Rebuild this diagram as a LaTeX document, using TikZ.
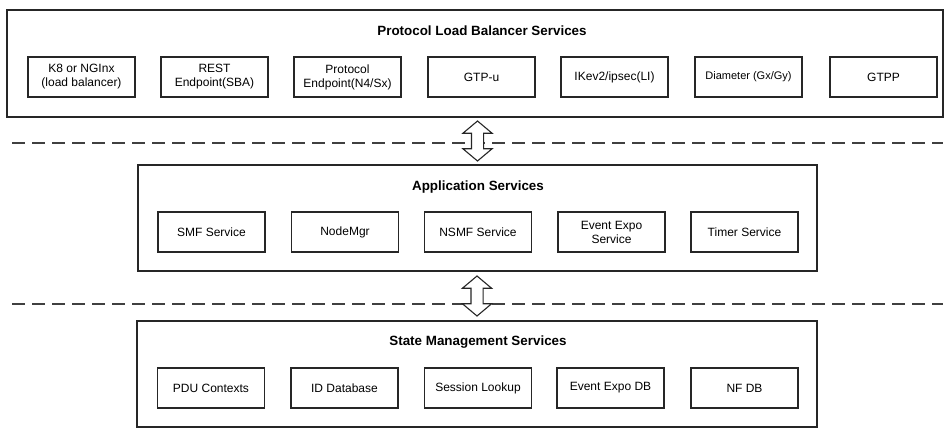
\documentclass[tikz,border=0pt]{standalone}
\usepackage{fontspec}
\setmainfont{Liberation Sans}
\usetikzlibrary{positioning, shapes.arrows, calc}

\begin{document}
\begin{tikzpicture}[
  x=1pt, y=-1pt,
  every node/.style={font=\fontsize{12}{14}\selectfont},
  layer/.style={draw=black!85, line width=1.3pt, inner sep=0pt},
  svc/.style={draw=black!85, line width=1.1pt, minimum width=107pt, minimum height=40pt, align=center, inner sep=1pt},
  layertitle/.style={font=\fontsize{13.4}{16}\selectfont\bfseries},
  divider/.style={draw=black!75, line width=1.2pt, dash pattern=on 13pt off 7pt},
  link/.style={double arrow, draw=black!85, fill=white, line width=1.1pt, rotate=90, minimum height=40pt, minimum width=28pt, inner xsep=0pt, inner ysep=5.5pt, double arrow head extend=8.5pt, double arrow tip angle=100}
]
\useasboundingbox (0,0) rectangle (945,428);
% Layer frames
\node[layer, minimum width=936pt, minimum height=107pt] (plb) at (475,63.5) {};
\node[layer, minimum width=679pt, minimum height=106pt] (app) at (477.5,218) {};
\node[layer, minimum width=680pt, minimum height=106pt] (sms) at (477,374) {};
% Layer titles
\node[layertitle] (plbt) at (482,31) {Protocol Load Balancer Services};
\node[layertitle] (appt) at (478,187) {Application Services};
\node[layertitle] (smst) at (478,342) {State Management Services};
% Protocol load balancer row
\node[svc] (k8) at (81.5,77) {K8 or NGInx\\(load balancer)};
\node[svc] (rest) at (214.5,77) {REST\\Endpoint(SBA)};
\node[svc] (pep) at (347.5,77) {Protocol\\Endpoint(N4/Sx)};
\node[svc] (gtpu) at (481.5,77) {GTP-u};
\node[svc] (ikev) at (614.5,77) {IKev2/ipsec(LI)};
\node[svc, font=\fontsize{11}{13}\selectfont] (diam) at (748.5,77) {Diameter (Gx/Gy)};
\node[svc] (gtpp) at (883.5,77) {GTPP};
% Application row
\node[svc] (smf) at (211.5,232) {SMF Service};
\node[svc] (nmgr) at (345,232) {NodeMgr};
\node[svc] (nsmf) at (478,232) {NSMF Service};
\node[svc] (evsvc) at (611.5,232) {Event Expo\\Service};
\node[svc] (tmr) at (744.5,232) {Timer Service};
% State management row
\node[svc] (pdu) at (211,388) {PDU Contexts};
\node[svc] (iddb) at (344.5,388) {ID Database};
\node[svc] (sess) at (478,388) {Session Lookup};
\node[svc] (evdb) at (610.5,388) {Event Expo DB};
\node[svc] (nfdb) at (744.5,388) {NF DB};
% Dashed separators
\coordinate (d1w) at (12,143);
\coordinate (d1e) at (943,143);
\coordinate (d2w) at (12,304);
\coordinate (d2e) at (943,304);
\draw[divider] (d1w) -- (d1e);
\draw[divider] (d2w) -- (d2e);
% Links between layers
\node[link] (l1) at ($(app.north)!0.5!(plb.south -| app.north)$) {};
\node[link] (l2) at ($(sms.north)!0.5!(app.south -| sms.north)$) {};
\end{tikzpicture}
\end{document}
